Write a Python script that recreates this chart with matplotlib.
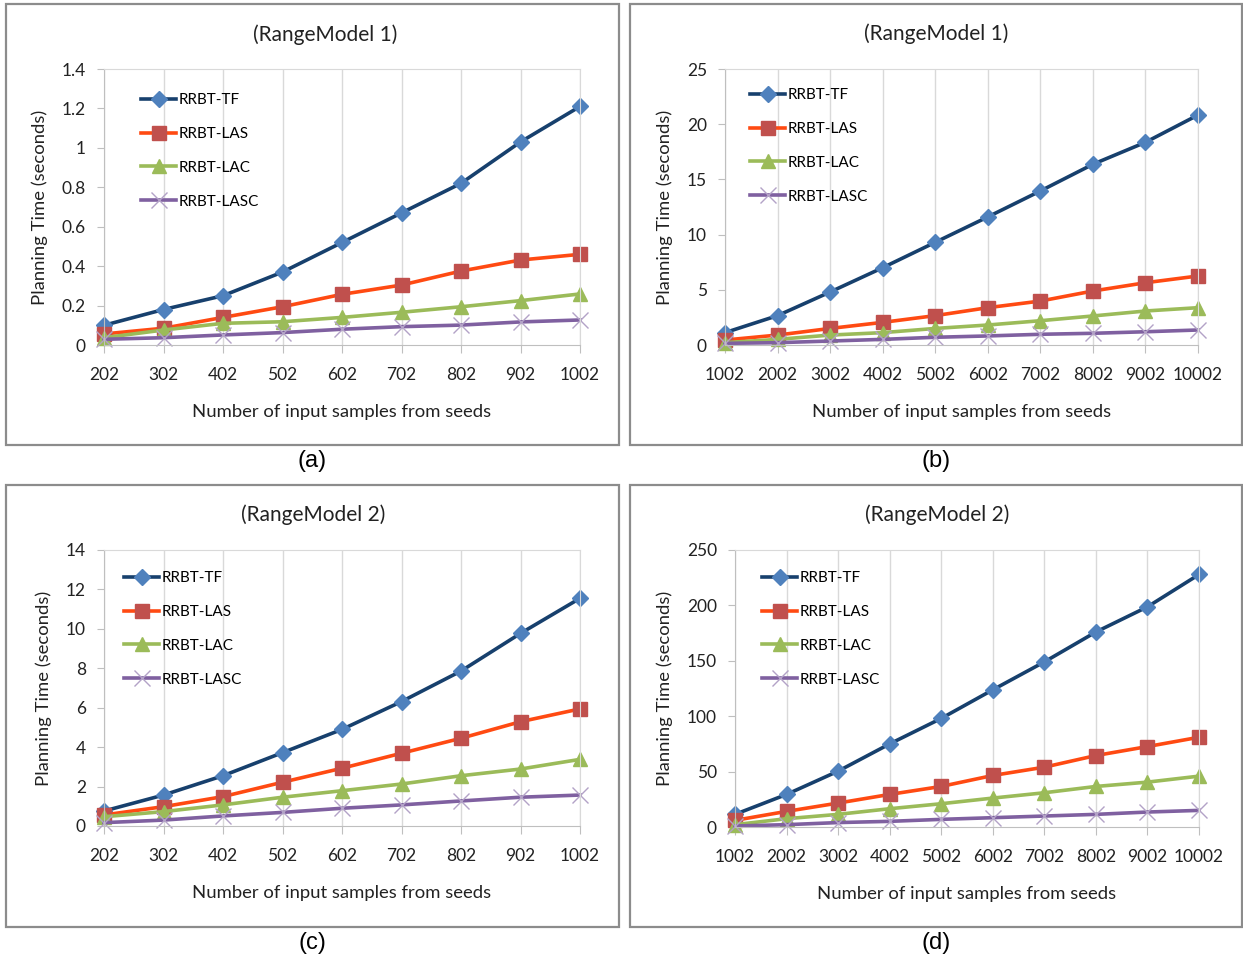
import matplotlib.pyplot as plt
from matplotlib.patches import Rectangle

# categories
x_small = ["202", "302", "402", "502", "602", "702", "802", "902", "1002"]
x_large = ["1002", "2002", "3002", "4002", "5002", "6002", "7002", "8002", "9002", "10002"]

# (a) RangeModel 1, small
a_tf = [0.10, 0.18, 0.25, 0.37, 0.52, 0.67, 0.82, 1.03, 1.21]
a_las = [0.056, 0.085, 0.14, 0.194, 0.257, 0.304, 0.375, 0.431, 0.46]
a_lac = [0.037, 0.076, 0.11, 0.118, 0.14, 0.166, 0.194, 0.225, 0.259]
a_lasc = [0.029, 0.037, 0.051, 0.063, 0.08, 0.093, 0.101, 0.117, 0.127]

# (b) RangeModel 1, large
b_tf = [1.12, 2.66, 4.8, 7.0, 9.3, 11.6, 13.95, 16.37, 18.36, 20.83]
b_las = [0.45, 0.9, 1.5, 2.05, 2.66, 3.38, 3.98, 4.89, 5.64, 6.25]
b_lac = [0.21, 0.51, 0.9, 1.12, 1.5, 1.81, 2.2, 2.63, 3.08, 3.38]
b_lasc = [0.15, 0.21, 0.36, 0.51, 0.7, 0.82, 0.97, 1.06, 1.2, 1.36]

# (c) RangeModel 2, small
c_tf = [0.76, 1.57, 2.55, 3.72, 4.9, 6.31, 7.86, 9.77, 11.55]
c_las = [0.56, 0.98, 1.49, 2.22, 2.93, 3.69, 4.45, 5.29, 5.94]
c_lac = [0.47, 0.73, 1.07, 1.46, 1.79, 2.13, 2.55, 2.89, 3.38]
c_lasc = [0.17, 0.30, 0.51, 0.69, 0.90, 1.07, 1.27, 1.46, 1.57]

# (d) RangeModel 2, large
d_tf = [11.4, 29.4, 50.4, 75, 98, 123.8, 149, 176, 198.7, 227.9]
d_las = [6, 14.1, 21.6, 29.4, 36.6, 46.5, 54, 64.5, 72.6, 81]
d_lac = [2.1, 7.5, 11.4, 16.5, 21, 26.1, 30.9, 36.6, 40.5, 45.9]
d_lasc = [0.9, 2.1, 4.0, 5.1, 6.9, 8.4, 9.9, 11.4, 13.5, 15]

names = ["RRBT-TF", "RRBT-LAS", "RRBT-LAC", "RRBT-LASC"]

W, H = 1243, 958
fig = plt.figure(figsize=(W / 100, H / 100), dpi=100)
FONT = "Lato"
TXT = "#222222"

styles = [
    dict(color="#17406D", marker="D", mfc="#4F81BD", mec="#4F81BD", ms=8),
    dict(color="#FF4A12", marker="s", mfc="#C0504D", mec="#C0504D", ms=10),
    dict(color="#9BBB59", marker="^", mfc="#9BBB59", mec="#9BBB59", ms=10),
    dict(color="#7F60A0", marker="x", mfc="#B3A2C7", mec="#B3A2C7", ms=11, mew=1.0),
]

panels = [
    # box px, axes px (l, r, top, bottom), title, title pos, cats, series, ylim, yticks, label, legend pos
    ((6, 619, 4, 445), (104, 580, 69, 345), "(RangeModel 1)", (325, 35), x_small,
     [a_tf, a_las, a_lac, a_lasc], 1.4, [0, 0.2, 0.4, 0.6, 0.8, 1, 1.2, 1.4],
     ["0", "0.2", "0.4", "0.6", "0.8", "1", "1.2", "1.4"], "(a)", (139, 99)),
    ((630, 1242, 4, 445), (725, 1198, 69, 345), "(RangeModel 1)", (936, 34), x_large,
     [b_tf, b_las, b_lac, b_lasc], 25, [0, 5, 10, 15, 20, 25],
     ["0", "5", "10", "15", "20", "25"], "(b)", (748, 94)),
    ((6, 619, 485, 927), (104, 580, 550, 826), "(RangeModel 2)", (313, 515), x_small,
     [c_tf, c_las, c_lac, c_lasc], 14, [0, 2, 4, 6, 8, 10, 12, 14],
     ["0", "2", "4", "6", "8", "10", "12", "14"], "(c)", (122, 577)),
    ((630, 1242, 485, 927), (735, 1199, 550, 827), "(RangeModel 2)", (937, 515), x_large,
     [d_tf, d_las, d_lac, d_lasc], 250, [0, 50, 100, 150, 200, 250],
     ["0", "50", "100", "150", "200", "250"], "(d)", (760, 577)),
]

for box, axp, title, tpos, cats, series, ymax, yt, ytl, lab, leg in panels:
    bl, br, bt, bb = box
    fig.patches.append(Rectangle((bl / W, 1 - bb / H), (br - bl) / W, (bb - bt) / H,
                                 transform=fig.transFigure, fill=False,
                                 edgecolor="#8C8C8C", linewidth=1.6))
    l, r, t, b = axp
    ax = fig.add_axes([l / W, 1 - b / H, (r - l) / W, (b - t) / H])
    xs = list(range(len(cats)))
    lines = []
    for vals, name, st in zip(series, names, styles):
        ln, = ax.plot(xs, vals, linewidth=2.6, label=name, clip_on=False, **st)
        lines.append(ln)
    ax.set_xlim(0, len(cats) - 1)
    ax.set_ylim(0, ymax)
    ax.set_xticks(xs)
    ax.set_xticklabels(cats, fontsize=12.5, fontfamily=FONT, color=TXT)
    ax.set_yticks(yt)
    ax.set_yticklabels(ytl, fontsize=12.5, fontfamily=FONT, color=TXT)
    ax.grid(axis="x", color="#D9D9D9", linewidth=1)
    ax.set_axisbelow(True)
    for s in ax.spines.values():
        s.set_color("#D9D9D9")
    ax.spines["left"].set_color("#BFBFBF")
    ax.spines["bottom"].set_color("#BFBFBF")
    ax.tick_params(axis="x", length=6, color="#BFBFBF", pad=10)
    ax.tick_params(axis="y", length=5, color="#BFBFBF", pad=8)
    ax.set_ylabel("Planning Time (seconds)", fontsize=13.3, fontfamily=FONT,
                  color=TXT, labelpad=10)
    ax.set_xlabel("Number of input samples from seeds", fontsize=13.3,
                  fontfamily=FONT, color=TXT, labelpad=15)
    fig.text(tpos[0] / W, 1 - tpos[1] / H, title, ha="center", va="center",
             fontsize=15, fontfamily=FONT, color=TXT)
    lx, ly = leg
    ax.legend(handles=lines, loc="upper left",
              bbox_to_anchor=((lx - 4 - l) / (r - l), 1 - (ly - 12 - t) / (b - t)),
              frameon=False, prop={"family": FONT, "size": 11},
              handlelength=2.3, handletextpad=0.15, labelspacing=1.3,
              borderaxespad=0)
    fig.text(((bl + br) / 2) / W, 1 - (bb + 16) / H, lab, ha="center", va="center",
             fontsize=17, fontfamily="Liberation Sans")

fig.savefig("out.png", dpi=100)
